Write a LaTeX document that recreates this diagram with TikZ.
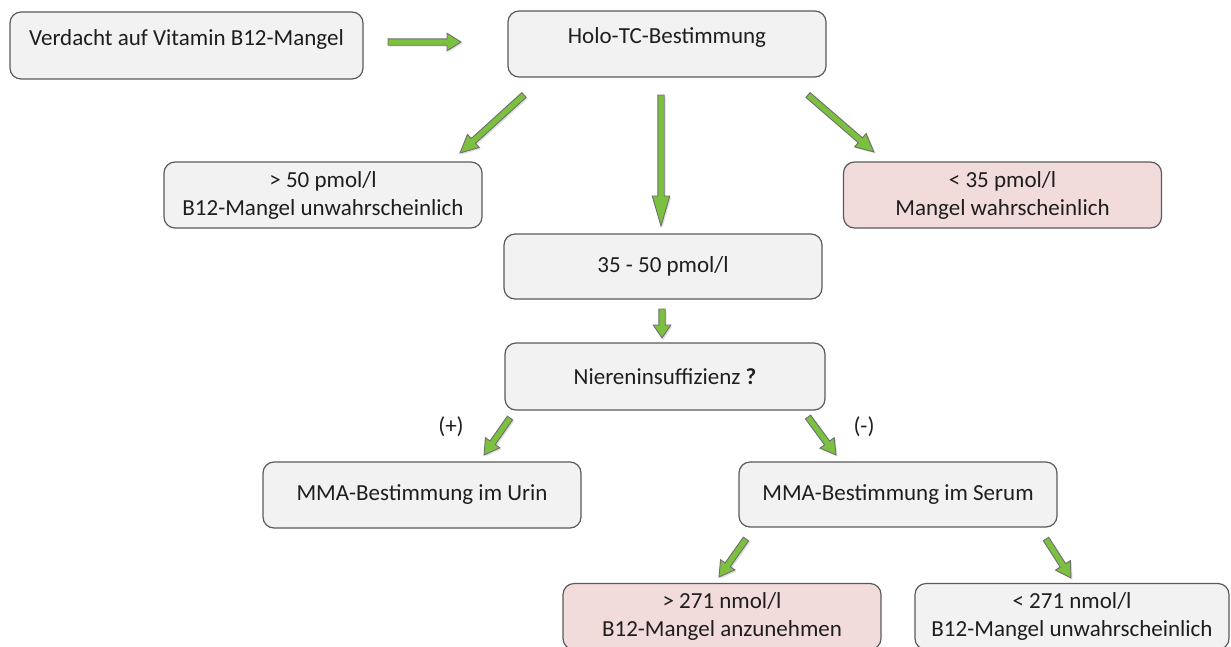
\documentclass[tikz,border=0pt]{standalone}
\usepackage{fontspec}
\setmainfont{Carlito}
\usetikzlibrary{calc,shadows}
\definecolor{boxfill}{RGB}{242,242,242}
\definecolor{pinkfill}{RGB}{242,220,219}
\definecolor{boxline}{RGB}{90,90,90}
\definecolor{arrgreen}{RGB}{124,192,64}
\definecolor{arrline}{RGB}{110,110,110}
\definecolor{txt}{RGB}{30,30,30}
\tikzset{
  box/.style={draw=boxline, line width=1.2pt, fill=boxfill, rounded corners=11pt,
    minimum width=318pt, minimum height=66pt, align=center, inner sep=0pt,
    text=txt, font=\fontsize{23}{28}\selectfont},
  pinkbox/.style={box, fill=pinkfill},
  barrow/.style={draw=arrline, line width=0.9pt, fill=arrgreen, line join=miter,
    drop shadow={shadow xshift=1.5pt, shadow yshift=-1.5pt, opacity=0.25}},
  lbl/.style={font=\fontsize{23}{26}\selectfont, inner sep=0pt, text=txt}
}
\newcommand\blockarrow[3][16]{%
  \draw[barrow] let \p1=(#2), \p2=(#3), \n1={atan2(\y2-\y1,\x2-\x1)},
    \n2={veclen(\x2-\x1,\y2-\y1)} in
    [shift={(\p1)}, rotate=\n1]
    (0,-3.2) -- ({\n2-#1},-3.2) -- ({\n2-#1},-8.8) -- (\n2,0) -- ({\n2-#1},8.8)
    -- ({\n2-#1},3.2) -- (0,3.2) -- cycle;}
\begin{document}
\begin{tikzpicture}[x=1pt,y=-1pt]
\useasboundingbox (0,0) rectangle (1231,646);
\clip (0,0) rectangle (1231,646);
% boxes
\node[box, minimum width=353pt, minimum height=67pt, text depth=16pt] (verd) at (186.5,45.5) {Verdacht auf Vitamin B12-Mangel};
\node[box, text depth=16pt] (holo) at (667,44) {Holo-TC-Bestimmung};
\node[box] (gt50) at (323,195) {> 50 pmol/l\\B12-Mangel unwahrscheinlich};
\node[pinkbox] (lt35) at (1002.5,195) {< 35 pmol/l\\Mangel wahrscheinlich};
\node[box, minimum height=65pt] (mid) at (663,266.5) {35 - 50 pmol/l};
\node[box, minimum width=320pt, minimum height=67pt] (niere) at (665,376.5) {Niereninsuffizienz \textbf{?}};
\node[box] (urin) at (422,495) {MMA-Bestimmung im Urin};
\node[box, minimum height=65pt] (serum) at (898,494.5) {MMA-Bestimmung im Serum};
\node[pinkbox] (gt271) at (722,616.5) {> 271 nmol/l\\B12-Mangel anzunehmen};
\node[box, minimum width=314pt] (lt271) at (1072,616.5) {< 271 nmol/l\\B12-Mangel unwahrscheinlich};
% labels
\node[lbl] (plus) at (451,427) {(+)};
\node[lbl] (minus) at (864,427) {(-)};
% arrow end points
\coordinate (h1) at (388,42);   \coordinate (h2) at (461,42);
\coordinate (a1s) at (524,95);  \coordinate (a1e) at (460,153);
\coordinate (a2s) at (661,95);  \coordinate (a2e) at (661,226);
\coordinate (a3s) at (808,95);  \coordinate (a3e) at (874,152);
\coordinate (a4s) at (662,309); \coordinate (a4e) at (662,338);
\coordinate (a5s) at (510,418); \coordinate (a5e) at (484,455);
\coordinate (a6s) at (808,417); \coordinate (a6e) at (836,455);
\coordinate (a7s) at (746,539); \coordinate (a7e) at (719,577);
\coordinate (a8s) at (1046,539);\coordinate (a8e) at (1071,578);
\blockarrow[14]{h1}{h2}
\blockarrow[18]{a1s}{a1e}
\blockarrow[30]{a2s}{a2e}
\blockarrow[18]{a3s}{a3e}
\blockarrow[13]{a4s}{a4e}
\blockarrow[15]{a5s}{a5e}
\blockarrow[15]{a6s}{a6e}
\blockarrow[15]{a7s}{a7e}
\blockarrow[15]{a8s}{a8e}
\end{tikzpicture}
\end{document}
